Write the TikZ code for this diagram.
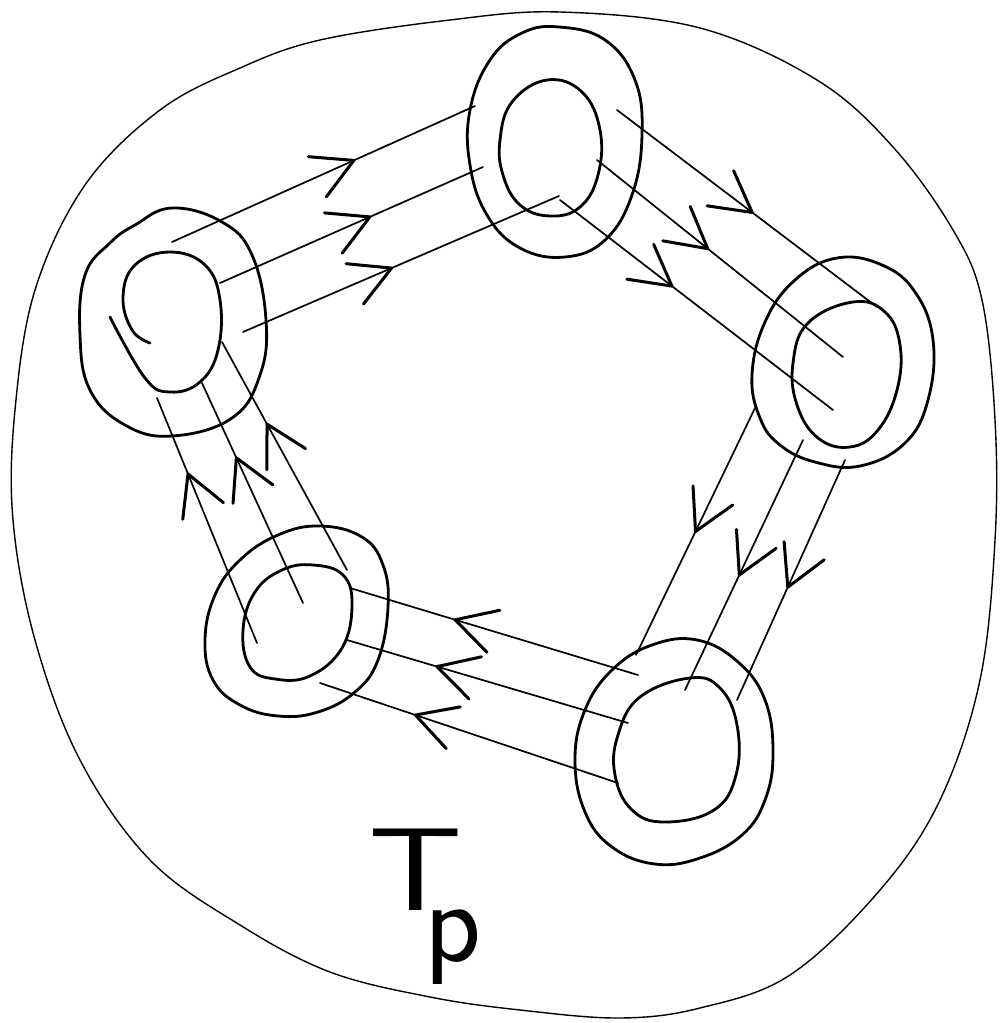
\documentclass[tikz,border=0pt]{standalone}
\usetikzlibrary{decorations.markings}
\begin{document}
\begin{tikzpicture}[x=1pt,y=-1pt,
  ring/.style={line width=2.8pt,line join=round,line cap=round},
  outerline/.style={line width=1.4pt},
  tube/.style={line width=1.7pt,line cap=round},
  chevline/.style={line width=3pt,line cap=round,line join=round},
  chev/.style={postaction={decorate,decoration={markings,
     mark=at position #1 with {\draw[chevline] (-40,22) -- (0,0) -- (-40,-22);}}}}]
\useasboundingbox (0,0) rectangle (1001,1023);
\fill[white] (0,0) rectangle (1001,1023);

% big outer curve
\draw[outerline] plot[smooth cycle,tension=0.6] coordinates{
 (560,12) (700,28) (817,80) (893,147) (953,230) (982,300) (995,420) (995,540)
 (980,680) (940,800) (880,890) (790,975) (700,1008) (620,1018) (520,1010)
 (430,997) (330,972) (240,925) (150,860) (80,760) (35,640) (13,520) (15,410)
 (35,290) (85,185) (160,110) (240,68) (320,40) (450,20)};

% top ring
\draw[ring] plot[smooth cycle,tension=0.7] coordinates{
 (559,27) (605,40) (635,80) (642,135) (632,195) (605,240) (565,257) (520,248)
 (487,215) (470,165) (470,110) (490,60) (522,33)};
\draw[ring] plot[smooth cycle,tension=0.7] coordinates{
 (547,80) (582,92) (600,130) (598,175) (580,207) (550,216) (520,205) (503,175)
 (500,140) (512,102)};

% left ring
\draw[ring] plot[smooth cycle,tension=0.7] coordinates{
 (172,208) (222,222) (252,255) (266,320) (260,375) (232,418) (172,436) (125,425)
 (90,390) (80,335) (85,275) (110,243) (135,225)};
\draw[ring] plot[smooth,tension=0.7] coordinates{
 (150,343) (132,330) (123,297) (135,265) (170,252) (205,265) (220,300) (218,350)
 (200,382) (170,392) (145,378) (110,317)};

% bottom-left ring
\draw[ring] plot[smooth cycle,tension=0.7] coordinates{
 (320,526) (362,537) (383,565) (388,607) (378,660) (355,692) (318,712) (278,716)
 (240,705) (213,680) (205,640) (215,595) (240,560) (278,535)};
\draw[ring] plot[smooth cycle,tension=0.7] coordinates{
 (313,565) (343,575) (352,605) (342,648) (310,676) (275,679) (250,667) (243,630)
 (255,592) (282,570)};

% bottom-right ring
\draw[ring] plot[smooth cycle,tension=0.7] coordinates{
 (697,640) (738,662) (765,700) (773,753) (765,800) (742,835) (700,858) (655,864)
 (612,847) (585,812) (575,760) (585,710) (612,670) (652,645)};
\draw[ring] plot[smooth cycle,tension=0.7] coordinates{
 (690,678) (720,688) (737,725) (736,775) (714,810) (665,822) (632,810) (615,775)
 (618,735) (640,697)};

% right ring
\draw[ring] plot[smooth cycle,tension=0.7] coordinates{
 (837,258) (882,265) (915,292) (933,340) (928,400) (905,443) (860,466) (815,462)
 (780,445) (760,418) (752,375) (765,322) (795,280)};
\draw[ring] plot[smooth cycle,tension=0.7] coordinates{
 (853,302) (885,312) (900,345) (897,390) (878,430) (850,447) (818,438) (797,405)
 (793,363) (808,323)};

% tube end points
\coordinate (A1) at (172,242); \coordinate (A2) at (475,106);
\coordinate (B1) at (220,283); \coordinate (B2) at (483,167);
\coordinate (C1) at (243,332); \coordinate (C2) at (559,196);
\coordinate (M1) at (617,110); \coordinate (M2) at (877,307);
\coordinate (N1) at (597,160); \coordinate (N2) at (843,357);
\coordinate (O1) at (560,200); \coordinate (O2) at (833,410);
\coordinate (J1) at (755,408); \coordinate (J2) at (636,655);
\coordinate (K1) at (803,440); \coordinate (K2) at (685,690);
\coordinate (L1) at (845,460); \coordinate (L2) at (737,700);
\coordinate (G1) at (638,675); \coordinate (G2) at (350,588);
\coordinate (H1) at (628,723); \coordinate (H2) at (347,640);
\coordinate (I1) at (618,783); \coordinate (I2) at (320,683);
\coordinate (D1) at (257,643); \coordinate (D2) at (157,398);
\coordinate (E1) at (303,603); \coordinate (E2) at (202,383);
\coordinate (F1) at (347,570); \coordinate (F2) at (222,342);

% tube lines with chevrons
\draw[tube,chev=0.60] (A1) -- (A2);
\draw[tube,chev=0.57] (B1) -- (B2);
\draw[tube,chev=0.47] (C1) -- (C2);
\draw[tube,chev=0.52] (M1) -- (M2);
\draw[tube,chev=0.45] (N1) -- (N2);
\draw[tube,chev=0.41] (O1) -- (O2);
\draw[tube,chev=0.50] (J1) -- (J2);
\draw[tube,chev=0.54] (K1) -- (K2);
\draw[tube,chev=0.53] (L1) -- (L2);
\draw[tube,chev=0.635] (G1) -- (G2);
\draw[tube,chev=0.68] (H1) -- (H2);
\draw[tube,chev=0.68] (I1) -- (I2);
\draw[tube,chev=0.69] (D1) -- (D2);
\draw[tube,chev=0.66] (E1) -- (E2);
\draw[tube,chev=0.64] (F1) -- (F2);

% label
\node[anchor=base west,inner sep=0pt] (label) at (368,910)
  {\fontsize{118}{118}\selectfont\sffamily\scalebox{1.25}[1]{T}\kern-38pt\raisebox{-0.44em}{p}};
\end{tikzpicture}
\end{document}
